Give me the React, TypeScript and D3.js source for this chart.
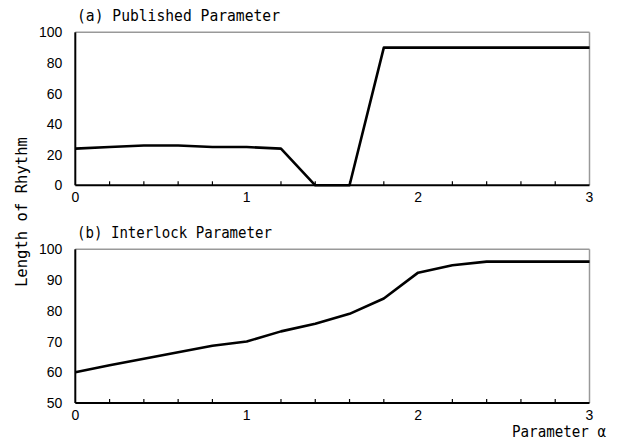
import React from "react";
import * as d3 from "d3";

const xValues = [0, 0.2, 0.4, 0.6, 0.8, 1.0, 1.2, 1.4, 1.6, 1.8, 2.0, 2.2, 2.4, 2.6, 2.8, 3.0];
const publishedValues = [24, 25, 26, 26, 25, 25, 24, 0, 0, 90, 90, 90, 90, 90, 90, 90];
const interlockValues = [60, 62.3, 64.4, 66.5, 68.6, 70, 73.3, 75.8, 79, 84, 92.4, 94.8, 96, 96, 96, 96];
const xTickLabels = [0, 1, 2, 3];
const minorTicks = [0.2, 0.4, 0.6, 0.8, 1.2, 1.4, 1.6, 1.8, 2.2, 2.4, 2.6, 2.8];
const yTicksA = [0, 20, 40, 60, 80, 100];
const yTicksB = [50, 60, 70, 80, 90, 100];

const W = 621;
const H = 444;
const left = 75.3;
const right = 589.5;

const numFont = "'Liberation Sans', Arial, sans-serif";
const monoFont = "'DejaVu Sans Mono', 'Liberation Mono', monospace";

function Panel({ top, bottom, domain, yTicks, values, title, titleWidth }: any) {
  const x = d3.scaleLinear().domain([0, 3]).range([left, right]);
  const y = d3.scaleLinear().domain(domain).range([bottom, top]);
  const line = d3.line<number>().x((_, i) => x(xValues[i])).y((d) => y(d));
  return (
    <g>
      <text x={77} y={top - 11.5} fontFamily={monoFont} fontSize={16.5} textLength={titleWidth} lengthAdjust="spacingAndGlyphs" fill="#000">
        {title}
      </text>
      <line x1={left} x2={right} y1={top} y2={top} stroke="#999" strokeWidth={1.5} />
      <line x1={right} x2={right} y1={top} y2={bottom} stroke="#999" strokeWidth={1.5} />
      {minorTicks.map((t) => (
        <line key={t} x1={x(t)} x2={x(t)} y1={bottom} y2={bottom - 4} stroke="#000" strokeWidth={1.2} />
      ))}
      <path d={line(values) || ""} fill="none" stroke="#000" strokeWidth={2.6} strokeLinejoin="round" />
      <line x1={left} x2={left} y1={top} y2={bottom} stroke="#000" strokeWidth={2} />
      <line x1={left} x2={right} y1={bottom} y2={bottom} stroke="#000" strokeWidth={2} />
      {yTicks.map((t: number) => (
        <text key={t} x={left - 13} y={y(t) + 5} textAnchor="end" fontFamily={numFont} fontSize={14} fill="#000">
          {t}
        </text>
      ))}
      {xTickLabels.map((t) => (
        <text key={t} x={x(t)} y={bottom + 17} textAnchor="middle" fontFamily={numFont} fontSize={14} fill="#000">
          {t}
        </text>
      ))}
    </g>
  );
}

export default function App() {
  return (
    <svg width={W} height={H} style={{ position: "absolute", left: 0, top: 0, background: "#fff" }}>
      <Panel top={32.3} bottom={185.3} domain={[0, 100]} yTicks={yTicksA} values={publishedValues} title="(a) Published Parameter" titleWidth={203} />
      <Panel top={249.3} bottom={403} domain={[50, 100]} yTicks={yTicksB} values={interlockValues} title="(b) Interlock Parameter" titleWidth={195} />
      <text transform="translate(27,212) rotate(-90)" textAnchor="middle" fontFamily={monoFont} fontSize={16.5} textLength={150} lengthAdjust="spacingAndGlyphs" fill="#000">
        Length of Rhythm
      </text>
      <text x={606} y={437} textAnchor="end" fontFamily={monoFont} fontSize={16.5} textLength={94} lengthAdjust="spacingAndGlyphs" fill="#000">
        Parameter α
      </text>
    </svg>
  );
}
